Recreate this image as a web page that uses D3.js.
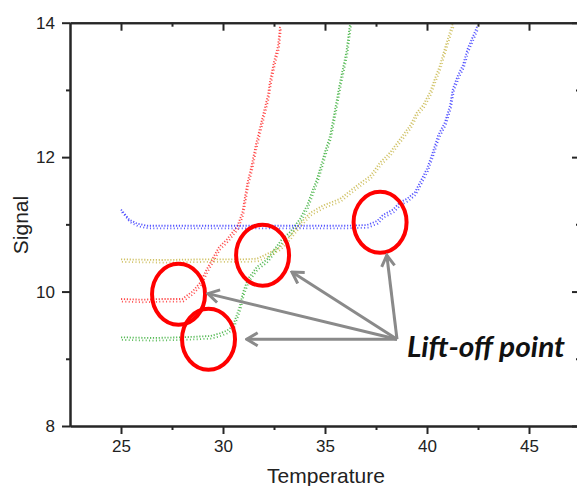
<!DOCTYPE html>
<html>
<head>
<meta charset="utf-8">
<script src="https://cdn.jsdelivr.net/npm/d3@7/dist/d3.min.js"></script>
<style>
  html, body { margin: 0; padding: 0; background: #fff; }
  svg { display: block; }
</style>
</head>
<body>
<svg id="chart" width="577" height="486"></svg>
<script>
// Melt-curve traces: temperature (x) and signal (y) for each sample
const redTemp   = [25.0, 26.0, 27.0, 28.0, 28.5, 28.9, 29.2, 29.8, 30.2, 30.7, 30.95, 31.1, 31.2, 31.4, 31.6, 31.8, 32.0, 32.2, 32.3, 32.5, 32.7, 32.8];
const redSignal = [9.87, 9.86, 9.87, 9.87, 9.98, 10.12, 10.31, 10.64, 10.76, 10.95, 11.16, 11.43, 11.6, 11.85, 12.15, 12.4, 12.65, 12.9, 13.1, 13.4, 13.64, 13.94];

const greenTemp   = [25.0, 26.5, 28.0, 29.4, 29.85, 30.2, 30.49, 30.83, 30.98, 31.23, 31.67, 32.16, 32.45, 32.89, 33.3, 33.77, 34.12, 34.36, 34.61, 34.8, 35.0, 35.25, 35.44, 35.59, 35.74, 35.88, 36.05, 36.13, 36.23];
const greenSignal = [9.3, 9.29, 9.3, 9.32, 9.36, 9.4, 9.47, 9.77, 9.97, 10.17, 10.35, 10.46, 10.58, 10.76, 10.87, 11.06, 11.26, 11.46, 11.66, 11.85, 12.06, 12.3, 12.6, 12.85, 13.1, 13.3, 13.55, 13.74, 13.97];

const yellowTemp   = [25.0, 27.0, 29.0, 31.0, 31.67, 32.16, 32.79, 33.28, 33.63, 34.26, 34.9, 35.74, 36.57, 37.21, 37.7, 38.19, 38.68, 39.17, 39.51, 39.8, 40.15, 40.39, 40.64, 40.78, 40.98, 41.13, 41.27];
const yellowSignal = [10.46, 10.45, 10.46, 10.46, 10.47, 10.54, 10.64, 10.8, 10.94, 11.15, 11.26, 11.36, 11.56, 11.7, 11.9, 12.05, 12.25, 12.45, 12.65, 12.75, 12.95, 13.15, 13.35, 13.5, 13.7, 13.85, 13.97];

const blueTemp   = [25.0, 25.2, 25.4, 25.8, 26.3, 28.0, 30.0, 32.0, 34.0, 36.0, 37.06, 37.55, 37.84, 38.33, 38.68, 39.02, 39.41, 39.75, 40.0, 40.29, 40.54, 40.88, 41.13, 41.27, 41.52, 41.76, 42.0, 42.2, 42.45];
const blueSignal = [11.2, 11.13, 11.05, 10.99, 10.96, 10.96, 10.96, 10.96, 10.96, 10.96, 10.97, 11.03, 11.12, 11.2, 11.31, 11.36, 11.46, 11.66, 11.81, 12.06, 12.3, 12.5, 12.75, 13.0, 13.2, 13.35, 13.6, 13.74, 13.92];

// Lift-off points marked on each trace, and where the callout arrows end
const liftTemp   = [27.82, 29.29, 31.94, 37.70];
const liftSignal = [9.96, 9.29, 10.54, 11.03];
const arrowTipTemp   = [29.26, 31.16, 33.38, 38.03];
const arrowTipSignal = [9.97, 9.29, 10.29, 10.54];
const arrowFromTemp = 38.53, arrowFromSignal = 9.29;
const calloutText = "Lift-off point";

// Axis ticks
const xMajor = [25, 30, 35, 40, 45];
const xMinor = [27.5, 32.5, 37.5, 42.5];
const yMajor = [8, 10, 12, 14];
const yMinor = [9, 11, 13];

const series = [
  { t: redTemp,    s: redSignal,    color: "#ff1f1f" },
  { t: greenTemp,  s: greenSignal,  color: "#2eaa2e" },
  { t: yellowTemp, s: yellowSignal, color: "#c4b340" },
  { t: blueTemp,   s: blueSignal,   color: "#2a2aff" }
];

const svg = d3.select("#chart");
const plotLeft = 70, plotTop = 22.7, plotRight = 580, plotBottom = 426;

const x = d3.scaleLinear().domain([22.5, 47.5]).range([plotLeft, plotRight]);
const y = d3.scaleLinear().domain([8, 14]).range([plotBottom, plotTop]);

const defs = svg.append("defs");
defs.append("clipPath").attr("id", "plotClip")
  .append("rect").attr("x", plotLeft).attr("y", plotTop)
  .attr("width", plotRight - plotLeft).attr("height", plotBottom - plotTop);

// Traces: each one drawn as two interleaved dotted strokes so it reads as a band of sample dots
const line = d3.line().x(d => x(d[0])).y(d => y(d[1]));
const traces = svg.append("g").attr("clip-path", "url(#plotClip)");
const dotStrokes = [
  { dx: 0,   dy: -1.3, dash: "1.2 1.7", width: 1.8 },
  { dx: 0.9, dy: 1.3,  dash: "1 2.4",   width: 1.8 }
];
series.forEach(sr => {
  const pts = sr.t.map((t, i) => [t, sr.s[i]]);
  dotStrokes.forEach(st => {
    traces.append("path")
      .attr("d", line(pts))
      .attr("transform", `translate(${st.dx},${st.dy})`)
      .attr("fill", "none")
      .attr("stroke", sr.color)
      .attr("stroke-width", st.width)
      .attr("stroke-dasharray", st.dash)
      .attr("opacity", 0.8);
  });
});

// Axes
const axisColor = "#262626";
function styleAxis(g) {
  g.select(".domain").attr("stroke", axisColor).attr("stroke-width", 2);
  g.selectAll(".tick line").attr("stroke", axisColor).attr("stroke-width", 2);
  g.selectAll(".tick text").attr("fill", "#222")
    .style("font-family", "'Liberation Sans', Arial, sans-serif").style("font-size", "17px");
}

// bottom: major + minor, ticks outward
svg.append("g").attr("transform", `translate(0,${plotBottom})`)
  .call(d3.axisBottom(x).tickValues(xMajor).tickSize(8).tickSizeOuter(0).tickPadding(6))
  .call(styleAxis);
svg.append("g").attr("transform", `translate(0,${plotBottom})`)
  .call(d3.axisBottom(x).tickValues(xMinor).tickSize(4).tickSizeOuter(0).tickFormat(""))
  .call(styleAxis);
// top: ticks inward
svg.append("g").attr("transform", `translate(0,${plotTop})`)
  .call(d3.axisTop(x).tickValues(xMajor).tickSize(-8).tickSizeOuter(0).tickFormat(""))
  .call(styleAxis);
svg.append("g").attr("transform", `translate(0,${plotTop})`)
  .call(d3.axisTop(x).tickValues(xMinor).tickSize(-4).tickSizeOuter(0).tickFormat(""))
  .call(styleAxis);
// left: ticks outward
svg.append("g").attr("transform", `translate(${plotLeft},0)`)
  .call(d3.axisLeft(y).tickValues(yMajor).tickSize(8).tickSizeOuter(0).tickPadding(7).tickFormat(d3.format("d")))
  .call(styleAxis);
svg.append("g").attr("transform", `translate(${plotLeft},0)`)
  .call(d3.axisLeft(y).tickValues(yMinor).tickSize(4).tickSizeOuter(0).tickFormat(""))
  .call(styleAxis);
// right: ticks inward
svg.append("g").attr("transform", `translate(${plotRight},0)`)
  .call(d3.axisRight(y).tickValues(yMajor).tickSize(-8).tickSizeOuter(0).tickFormat(""))
  .call(styleAxis);
svg.append("g").attr("transform", `translate(${plotRight},0)`)
  .call(d3.axisRight(y).tickValues(yMinor).tickSize(-4).tickSizeOuter(0).tickFormat(""))
  .call(styleAxis);

// Axis titles
svg.append("text")
  .attr("x", 326).attr("y", 483)
  .attr("text-anchor", "middle")
  .style("font-family", "'Liberation Sans', Arial, sans-serif").style("font-size", "21px")
  .attr("fill", "#222")
  .text("Temperature");
svg.append("text")
  .attr("transform", "translate(28,225) rotate(-90)")
  .attr("text-anchor", "middle")
  .style("font-family", "'Liberation Sans', Arial, sans-serif").style("font-size", "21px")
  .attr("fill", "#222")
  .text("Signal");

// Lift-off circles
svg.append("g").selectAll("ellipse")
  .data(liftTemp.map((t, i) => [t, liftSignal[i]]))
  .join("ellipse")
  .attr("cx", d => x(d[0])).attr("cy", d => y(d[1]))
  .attr("rx", 26.5).attr("ry", 30.5)
  .attr("fill", "none").attr("stroke", "#ff0000").attr("stroke-width", 4);

// Callout arrows
defs.append("marker")
  .attr("id", "arrowHead")
  .attr("markerUnits", "userSpaceOnUse")
  .attr("viewBox", "-14 -8 16 16")
  .attr("markerWidth", 16).attr("markerHeight", 16)
  .attr("refX", 0).attr("refY", 0)
  .attr("orient", "auto")
  .append("path")
  .attr("d", "M-11,-6.5 L0,0 L-11,6.5")
  .attr("fill", "none").attr("stroke", "#8a8a8a").attr("stroke-width", 3)
  .attr("stroke-linejoin", "miter");

svg.append("g").selectAll("line")
  .data(arrowTipTemp.map((t, i) => [t, arrowTipSignal[i]]))
  .join("line")
  .attr("x1", x(arrowFromTemp)).attr("y1", y(arrowFromSignal))
  .attr("x2", d => x(d[0])).attr("y2", d => y(d[1]))
  .attr("stroke", "#8a8a8a").attr("stroke-width", 3)
  .attr("marker-end", "url(#arrowHead)");

svg.append("text")
  .attr("x", 407).attr("y", 357)
  .attr("textLength", 158).attr("lengthAdjust", "spacingAndGlyphs")
  .style("font-family", "Lato, 'Open Sans', sans-serif")
  .style("font-size", "29px").style("font-weight", "bold").style("font-style", "italic")
  .attr("fill", "#111")
  .text(calloutText);
</script>
</body>
</html>
